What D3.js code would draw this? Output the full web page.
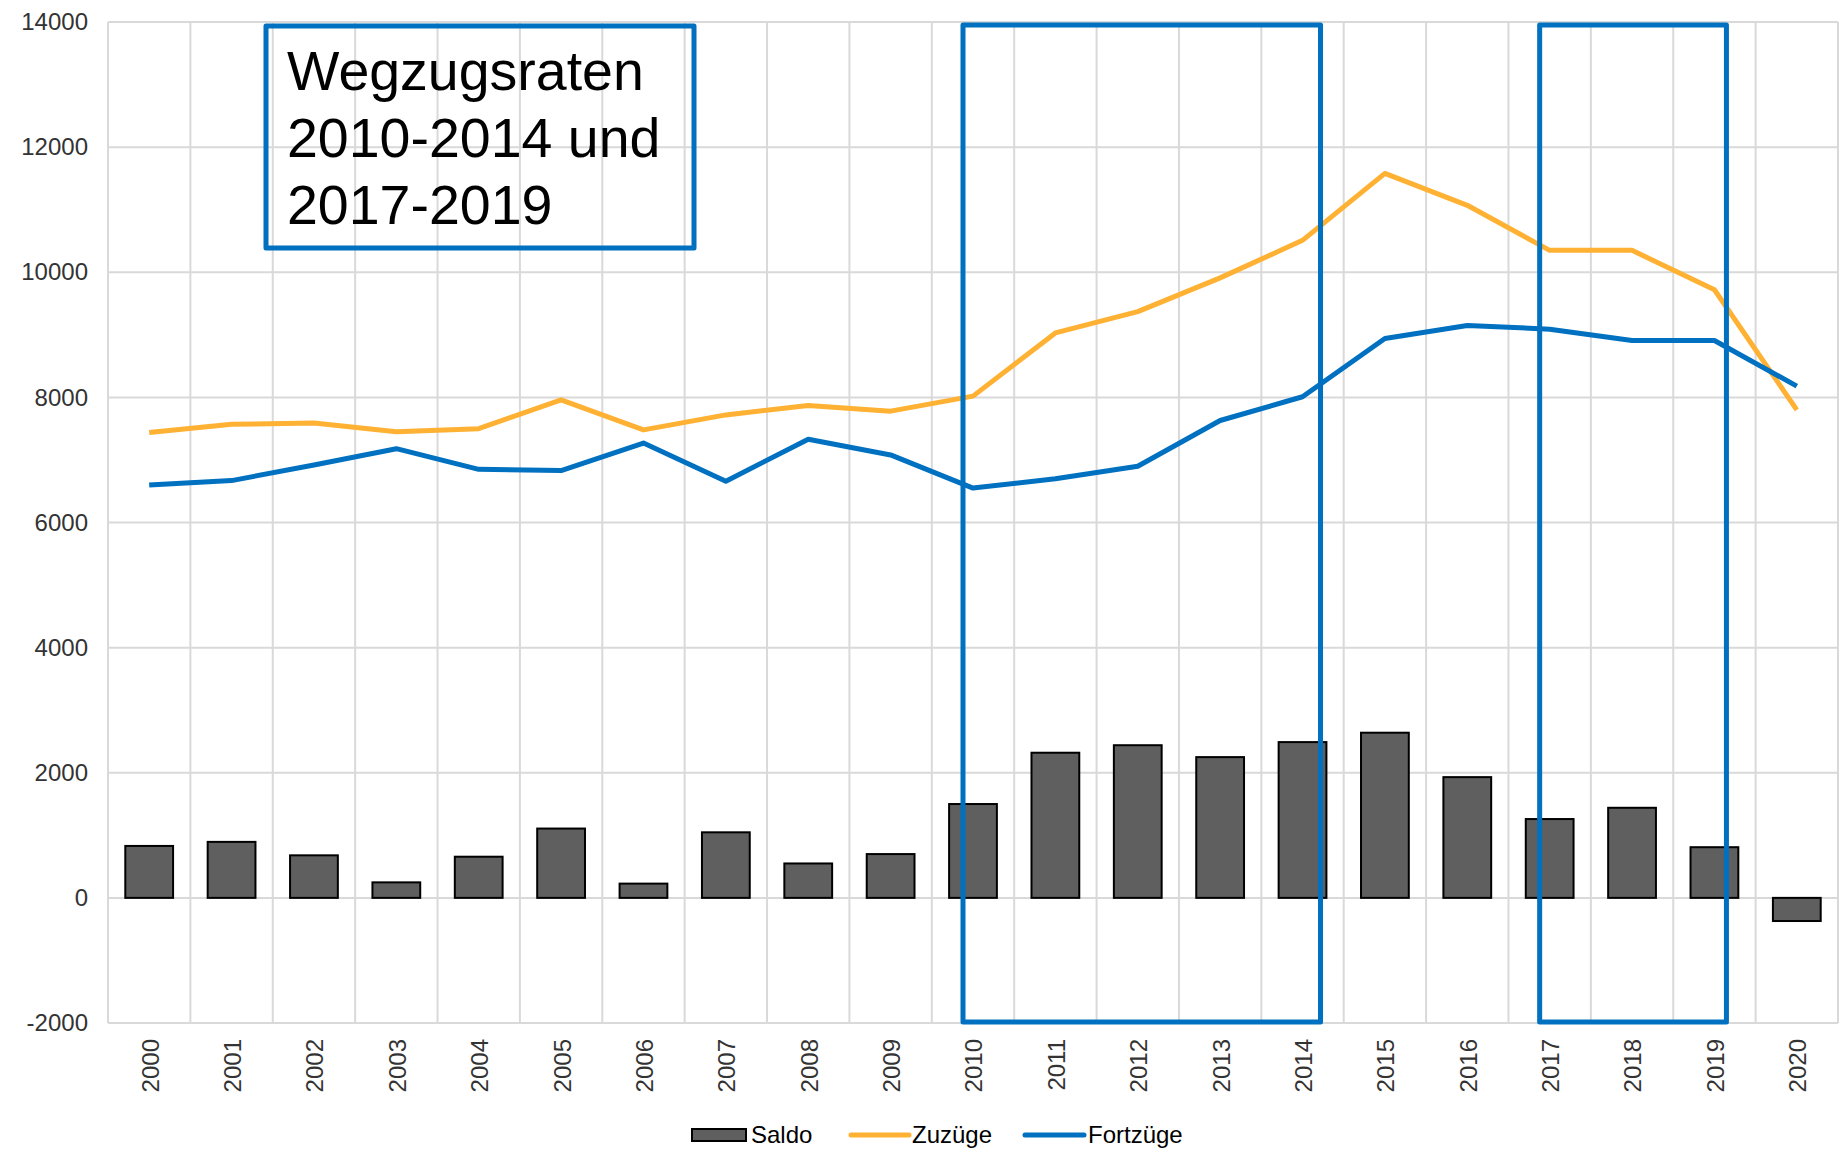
<!DOCTYPE html>
<html>
<head>
<meta charset="utf-8">
<script src="https://cdn.jsdelivr.net/npm/d3@7"></script>
<style>
  body { margin: 0; background: #fff; }
  svg { display: block; font-family: "Liberation Sans", Arial, sans-serif; }
</style>
</head>
<body>
<svg id="chart"></svg>
<script>
const years = ["2000", "2001", "2002", "2003", "2004", "2005", "2006", "2007", "2008", "2009",
  "2010", "2011", "2012", "2013", "2014", "2015", "2016", "2017", "2018", "2019", "2020"];

const saldo = [830, 895, 680, 248, 658, 1108, 228, 1048, 550, 700,
  1500, 2320, 2440, 2250, 2490, 2640, 1930, 1260, 1440, 810, -370];

const zuzuege = [7440, 7570, 7590, 7450, 7500, 7960, 7480, 7720, 7870, 7780,
  8020, 9030, 9370, 9910, 10510, 11580, 11070, 10350, 10350, 9720, 7800];

const fortzuege = [6600, 6670, 6920, 7180, 6850, 6830, 7270, 6660, 7330, 7080,
  6550, 6700, 6900, 7630, 8010, 8940, 9150, 9090, 8910, 8910, 8180];

const yTicks = [-2000, 0, 2000, 4000, 6000, 8000, 10000, 12000, 14000];

const highlights = [["2010", "2014"], ["2017", "2019"]];
const noteLines = ["Wegzugsraten", "2010-2014 und", "2017-2019"];

const seriesNames = ["Saldo", "Zuzüge", "Fortzüge"];

const width = 1841, height = 1149;
const margin = { top: 22, right: 3, bottom: 126, left: 108 };
const orange = "#FFB133", blue = "#0070C0", grid = "#D9D9D9", txt = "#333";

const svg = d3.select("#chart").attr("width", width).attr("height", height);

const x = d3.scaleBand()
  .domain(years)
  .range([margin.left, width - margin.right])
  .paddingInner(0.42)
  .paddingOuter(0.21);

const y = d3.scaleLinear()
  .domain([-2000, 14000])
  .range([height - margin.bottom, margin.top]);

const cx = d => x(d) + x.bandwidth() / 2;

// gridlines
svg.append("g")
  .selectAll("line")
  .data(yTicks)
  .join("line")
  .attr("x1", margin.left).attr("x2", width - margin.right)
  .attr("y1", d => y(d)).attr("y2", d => y(d))
  .attr("stroke", grid).attr("stroke-width", 2);

const edges = years.map(d => cx(d) - x.step() / 2).concat([width - margin.right]);
svg.append("g")
  .selectAll("line")
  .data(edges)
  .join("line")
  .attr("x1", d => d).attr("x2", d => d)
  .attr("y1", y(14000)).attr("y2", y(-2000))
  .attr("stroke", grid).attr("stroke-width", 2);

// y axis labels (plain hyphen for negatives, like the original)
const yAxis = svg.append("g")
  .attr("transform", `translate(${margin.left},0)`)
  .call(d3.axisLeft(y).tickValues(yTicks).tickSize(0).tickPadding(20).tickFormat(d => String(d)));
yAxis.select(".domain").remove();
yAxis.selectAll("text")
  .attr("font-size", 24).attr("fill", txt)
  .attr("font-family", "Liberation Sans, Arial, sans-serif");

// x axis labels, rotated
svg.append("g")
  .selectAll("text")
  .data(years)
  .join("text")
  .attr("transform", d => `translate(${cx(d) + 1},${y(-2000) + 16}) rotate(-90)`)
  .attr("text-anchor", "end")
  .attr("dy", "0.35em")
  .attr("font-size", 24)
  .attr("fill", txt)
  .text(d => d);

// bars
svg.append("g")
  .selectAll("rect")
  .data(saldo)
  .join("rect")
  .attr("x", (d, i) => x(years[i]))
  .attr("width", x.bandwidth())
  .attr("y", d => y(Math.max(0, d)))
  .attr("height", d => Math.abs(y(d) - y(0)))
  .attr("fill", "#5F5F5F")
  .attr("stroke", "#000")
  .attr("stroke-width", 2);

// lines
const line = d3.line()
  .x((d, i) => cx(years[i]))
  .y(d => y(d));

[[zuzuege, orange], [fortzuege, blue]].forEach(([vals, col]) => {
  svg.append("path")
    .datum(vals)
    .attr("d", line)
    .attr("fill", "none")
    .attr("stroke", col)
    .attr("stroke-width", 5)
    .attr("stroke-linejoin", "round");
});

// highlight boxes (hand drawn in the original, so edges are a bit off-center)
const boxPad = [[10, 18], [10, 12]];
svg.append("g")
  .selectAll("rect")
  .data(highlights)
  .join("rect")
  .attr("x", (d, i) => cx(d[0]) - boxPad[i][0])
  .attr("width", (d, i) => cx(d[1]) + boxPad[i][1] - (cx(d[0]) - boxPad[i][0]))
  .attr("y", y(14000) + 3)
  .attr("height", y(-2000) - 1 - (y(14000) + 3))
  .attr("fill", "none")
  .attr("stroke", blue)
  .attr("stroke-width", 5)
  .attr("stroke-linejoin", "round");

// note text box
const note = svg.append("g");
note.append("rect")
  .attr("x", 266).attr("y", 26)
  .attr("width", 428).attr("height", 222)
  .attr("fill", "none")
  .attr("stroke", blue)
  .attr("stroke-width", 5)
  .attr("stroke-linejoin", "round");
note.selectAll("text")
  .data(noteLines)
  .join("text")
  .attr("x", 287)
  .attr("y", (d, i) => 90 + i * 67)
  .attr("font-size", 55.5)
  .attr("fill", "#000")
  .text(d => d);

// legend
const legend = svg.append("g").attr("transform", "translate(0,1135)");
legend.append("rect")
  .attr("x", 692).attr("y", -6).attr("width", 54).attr("height", 12)
  .attr("fill", "#5F5F5F").attr("stroke", "#000").attr("stroke-width", 2);
[[851, 909, orange], [1025, 1084, blue]].forEach(([a, b, col]) => {
  legend.append("line")
    .attr("x1", a).attr("x2", b)
    .attr("stroke", col).attr("stroke-width", 5).attr("stroke-linecap", "round");
});
legend.selectAll("text")
  .data(seriesNames)
  .join("text")
  .attr("x", (d, i) => [751, 912, 1088][i])
  .attr("dy", "0.35em")
  .attr("font-size", 24)
  .attr("fill", "#000")
  .text(d => d);
</script>
</body>
</html>
